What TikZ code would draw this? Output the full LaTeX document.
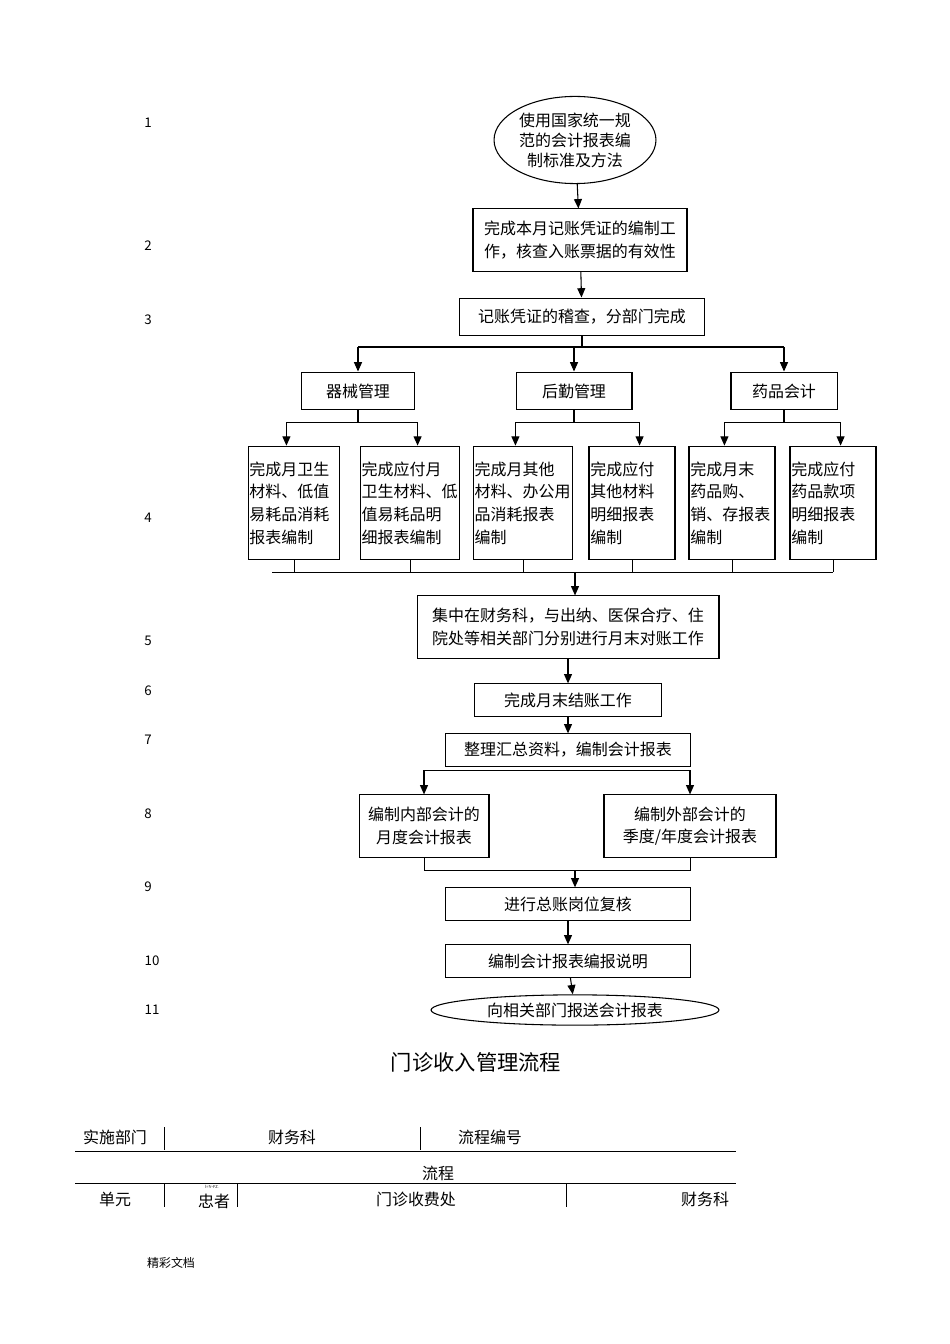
\documentclass[tikz,border=0pt]{standalone}
\usepackage{fontspec}
\setmainfont{Noto Sans CJK SC}
\usetikzlibrary{shapes.geometric, arrows.meta, positioning, calc}
\begin{document}
\begin{tikzpicture}[
    x=0.0264cm, y=-0.0264cm,
    font=\fontsize{12}{17}\selectfont,
    box/.style={rectangle, draw, thick, align=center, inner sep=2pt},
    subbox/.style={rectangle, draw, thick, align=left, text width=#1, minimum height=3cm, inner sep=1pt},
    oval/.style={ellipse, draw, thick, align=center, inner sep=1pt},
    arrow/.style={-{Triangle[length=7pt,width=6pt]}, thick},
    num/.style={font=\fontsize{10}{12}\selectfont},
    cell/.style={font=\fontsize{12}{13}\selectfont}
]
\useasboundingbox (0,0) rectangle (950,1344);

% Steps
\node[oval, minimum width=3.95cm, minimum height=2.3cm, font=\fontsize{12}{15}\selectfont] (start) at (575,140) {使用国家统一规\\范的会计报表编\\制标准及方法};
\node[box, minimum width=5.65cm, minimum height=1.64cm] (voucher) at (580,240) {完成本月记账凭证的编制工\\作，核查入账票据的有效性};
\node[box, minimum width=6.45cm, minimum height=1cm] (audit) at (582,317) {记账凭证的稽查，分部门完成};
\node[box, minimum width=3cm, minimum height=1cm] (equip) at (358,391) {器械管理};
\node[box, minimum width=3.06cm, minimum height=1cm] (logis) at (574,391) {后勤管理};
\node[box, minimum width=2.8cm, minimum height=1cm] (drug) at (784,391) {药品会计};

\node[subbox=2.35cm] (r1) at (294,503) {完成月卫生\\材料、低值\\易耗品消耗\\报表编制};
\node[subbox=2.55cm] (r2) at (410,503) {完成应付月\\卫生材料、低\\值易耗品明\\细报表编制\\[6pt]};
\node[subbox=2.55cm] (r3) at (523,503) {完成月其他\\材料、办公用\\品消耗报表\\编制};
\node[subbox=2.2cm] (r4) at (632,503) {完成应付\\其他材料\\明细报表\\编制};
\node[subbox=2.2cm] (r5) at (732,503) {完成月末\\药品购、\\销、存报表\\编制\\[6pt]};
\node[subbox=2.2cm] (r6) at (833,503) {完成应付\\药品款项\\明细报表\\编制\\[6pt]};

\node[box, minimum width=7.97cm, minimum height=1.64cm] (check) at (568,627) {集中在财务科，与出纳、医保合疗、住\\院处等相关部门分别进行月末对账工作};
\node[box, minimum width=4.96cm, minimum height=0.85cm] (close) at (568,700) {完成月末结账工作};
\node[box, minimum width=6.45cm, minimum height=0.85cm] (collect) at (568,750) {整理汇总资料，编制会计报表};
\node[box, minimum width=3.43cm, minimum height=1.64cm] (inner) at (424,826) {编制内部会计的\\月度会计报表};
\node[box, minimum width=4.54cm, minimum height=1.64cm] (outer) at (690,826) {编制外部会计的\\季度/年度会计报表};
\node[box, minimum width=6.45cm, minimum height=0.85cm] (review) at (568,904) {进行总账岗位复核};
\node[box, minimum width=6.45cm, minimum height=0.85cm] (note) at (568,961) {编制会计报表编报说明};
\node[oval, minimum width=7.6cm, minimum height=0.8cm] (send) at (575,1010) {向相关部门报送会计报表};

% Step numbers
\foreach \n/\yy in {1/123, 2/246, 3/320, 4/518, 5/641, 6/691, 7/740, 8/814, 9/887}
  \node[num] (num\n) at (148,\yy) {\n};
\node[num] (num10) at (152,961) {10};
\node[num] (num11) at (152,1010) {11};

% Arrows
\draw[arrow] (start) -- (voucher);
\draw[arrow] (voucher) -- (audit);
\coordinate (split) at (audit.south |- 0,347);
\draw[thick] (audit.south) -- (split);
\draw[thick] (equip.north |- split) -- (drug.north |- split);
\foreach \t in {equip, logis, drug}
  \draw[arrow] (\t.north |- split) -- (\t.north);
\foreach \s/\a/\b in {equip/r1/r2, logis/r3/r4, drug/r5/r6} {
  \draw[thick] (\s.south) -- ++(0,12) coordinate (\s-j);
  \draw[thick] ([xshift=-0.2cm]\a.north |- \s-j) -- ([xshift=0.2cm]\b.north |- \s-j);
  \draw[arrow] ([xshift=-0.2cm]\a.north |- \s-j) -- ([xshift=-0.2cm]\a.north);
  \draw[arrow] ([xshift=0.2cm]\b.north |- \s-j) -- ([xshift=0.2cm]\b.north);
}
\coordinate (bus) at (0,572);
\foreach \r in {r1, r2, r3, r4, r5, r6}
  \draw (\r.south) -- (\r.south |- bus);
\draw (272,572) -- (r6.south |- bus);
\coordinate (busmid) at (575,572);
\draw[arrow] (busmid) -- (busmid |- check.north);
\draw[arrow] (check) -- (close);
\draw[arrow] (close) -- (collect);
\coordinate (fork) at (0,770);
\draw (inner.north |- fork) -- (outer.north |- fork);
\draw[arrow] (inner.north |- fork) -- (inner.north);
\draw[arrow] (outer.north |- fork) -- (outer.north);
\coordinate (join) at (0,870);
\draw (inner.south) -- (inner.south |- join) -- (outer.south |- join) -- (outer.south);
\coordinate (joinmid) at (575,870);
\draw[arrow] (joinmid) -- (joinmid |- review.north);
\draw[arrow] (review) -- (note);
\draw[arrow] (note) -- (send);

% Title and table
\node[font=\fontsize{16}{18}\selectfont] (title) at (476,1062) {门诊收入管理流程};
\draw (75,1151) -- (736,1151);
\draw (164,1127) -- (164,1150);
\draw (420,1127) -- (420,1150);
\node[cell] (dept) at (115,1137) {实施部门};
\node[cell] (deptval) at (292,1137) {财务科};
\node[cell] (code) at (490,1137) {流程编号};
\node[cell] (flow) at (438,1173) {流程};
\draw (75,1183) -- (736,1183);
\foreach \xx in {164, 237, 566}
  \draw (\xx,1184) -- (\xx,1207);
\node[cell] (unit) at (115,1199) {单元};
\node[font=\fontsize{3}{3}\selectfont] (tiny) at (212,1187) {l=?r-FZ.};
\node[cell] (patient) at (214,1201) {忠者};
\node[cell] (cashier) at (416,1199) {门诊收费处};
\node[cell] (finance) at (705,1199) {财务科};
\node[font=\fontsize{9}{11}\selectfont] (foot) at (171,1263) {精彩文档};
\end{tikzpicture}
\end{document}
